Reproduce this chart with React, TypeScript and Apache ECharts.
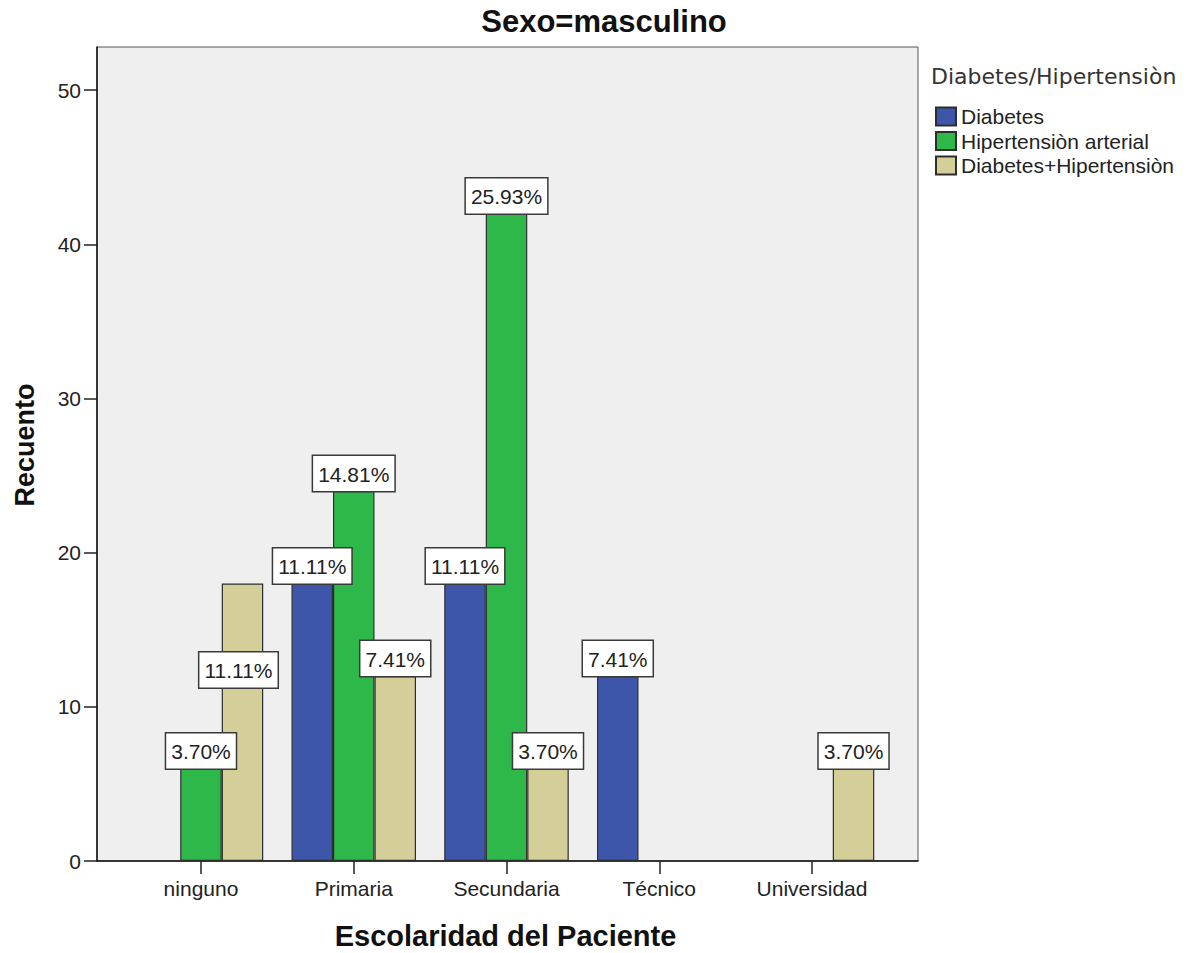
import React, { useEffect, useRef } from "react";
import * as echarts from "echarts";

// Education level of the patient (x categories)
const categories = ["ninguno", "Primaria", "Secundaria", "Técnico", "Universidad"];
// Diagnosis groups (legend order)
const seriesNames = ["Diabetes", "Hipertensiòn arterial", "Diabetes+Hipertensiòn"];
// Counts per education level
const diabetes = [0, 18, 18, 12, 0];
const hipertension = [6, 24, 42, 0, 0];
const diabetesHipertension = [18, 12, 6, 0, 6];
const yTicks = [0, 10, 20, 30, 40, 50];

const seriesColors = ["#3d56a9", "#2eb84a", "#d4cf98"];
const SANS = "'Liberation Sans', Arial, sans-serif";

export default function App() {
  const ref = useRef<HTMLDivElement>(null);

  useEffect(() => {
    if (!ref.current) return;
    const chart = echarts.init(ref.current, null, { renderer: "svg" });

    const allSeries = [diabetes, hipertension, diabetesHipertension];
    const total = allSeries.reduce((s, arr) => s + arr.reduce((a, b) => a + b, 0), 0);

    // One label is pushed down inside its bar so it clears the neighbouring label
    const labelOffsets: Record<string, number[]> = { "2-0": [-4, 104] };

    const series = allSeries.map((arr, si) => ({
      name: seriesNames[si],
      type: "bar",
      xAxisIndex: 1,
      yAxisIndex: 1,
      barWidth: 41.5,
      barGap: "0%",
      itemStyle: { color: seriesColors[si], borderColor: "#2e2e2e", borderWidth: 1.2 },
      label: {
        show: true,
        position: "top",
        distance: 0,
        formatter: (p: any) => ((p.value / total) * 100).toFixed(2) + "%",
        fontFamily: SANS,
        fontSize: 21,
        lineHeight: 22,
        color: "#222",
        backgroundColor: "#ffffff",
        borderColor: "#3a3a3a",
        borderWidth: 1.5,
        padding: [7, 5, 6, 5],
      },
      data: arr.map((v, ci) => {
        if (v === 0) return "-";
        const off = labelOffsets[`${si}-${ci}`];
        return off ? { value: v, label: { offset: off } } : v;
      }),
    }));

    chart.setOption({
      animation: false,
      backgroundColor: "#ffffff",
      grid: [
        {
          left: 97,
          top: 47,
          width: 821,
          height: 814,
          show: true,
          backgroundColor: "#efefef",
          borderColor: "#555",
          borderWidth: 1,
        },
        { left: 124.6, top: 47, width: 763.8, height: 814 },
      ],
      xAxis: [
        {
          gridIndex: 0,
          type: "value",
          min: 0,
          max: 1,
          axisLine: { show: true, lineStyle: { color: "#111", width: 1.5 } },
          axisTick: { show: false },
          axisLabel: { show: false },
          splitLine: { show: false },
        },
        {
          gridIndex: 1,
          type: "category",
          data: categories,
          axisLine: { show: false },
          axisTick: { show: true, alignWithLabel: true, length: 13, lineStyle: { color: "#222", width: 1.5 } },
          axisLabel: { fontFamily: SANS, fontSize: 21, color: "#222", margin: 17 },
          splitLine: { show: false },
        },
      ],
      yAxis: [
        {
          gridIndex: 0,
          type: "value",
          min: 0,
          max: 52.8,
          interval: 10,
          axisLine: { show: true, lineStyle: { color: "#111", width: 1.5 } },
          axisTick: { show: true, length: 13, lineStyle: { color: "#222", width: 1.5 }, customValues: yTicks },
          axisLabel: { fontFamily: SANS, fontSize: 21, color: "#222", margin: 16, customValues: yTicks },
          splitLine: { show: false },
        },
        {
          gridIndex: 1,
          type: "value",
          min: 0,
          max: 52.8,
          show: false,
          splitLine: { show: false },
        },
      ],
      legend: {
        orient: "vertical",
        left: 935,
        top: 106,
        padding: 0,
        icon: "rect",
        itemWidth: 20,
        itemHeight: 18,
        itemGap: 3.5,
        data: seriesNames,
        textStyle: { fontFamily: SANS, fontSize: 21, color: "#222" },
      },
      graphic: [
        {
          type: "text",
          x: 604,
          y: 21,
          style: {
            text: "Sexo=masculino",
            font: `bold 31px ${SANS}`,
            fill: "#111",
            textAlign: "center",
            textVerticalAlign: "middle",
          },
        },
        {
          type: "text",
          x: 505.5,
          y: 936,
          style: {
            text: "Escolaridad del Paciente",
            font: `bold 29px ${SANS}`,
            fill: "#111",
            textAlign: "center",
            textVerticalAlign: "middle",
          },
        },
        {
          type: "text",
          x: 25,
          y: 445,
          rotation: Math.PI / 2,
          style: {
            text: "Recuento",
            font: `bold 27px ${SANS}`,
            fill: "#111",
            textAlign: "center",
            textVerticalAlign: "middle",
          },
        },
        {
          type: "text",
          x: 931,
          y: 76,
          style: {
            text: "Diabetes/Hipertensiòn",
            font: `22px 'DejaVu Sans', sans-serif`,
            fill: "#333",
            textAlign: "left",
            textVerticalAlign: "middle",
          },
        },
      ],
      series,
    });

    return () => chart.dispose();
  }, []);

  return (
    <div
      ref={ref}
      style={{ position: "fixed", left: 0, top: 0, width: 1194, height: 953, background: "#fff" }}
    />
  );
}
